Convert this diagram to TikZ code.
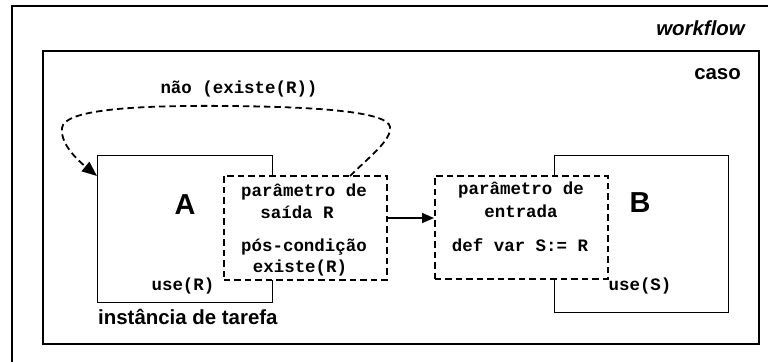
\documentclass[tikz,border=0pt]{standalone}
\usepackage{fontspec}
\setmainfont{Liberation Sans}
\newfontfamily\monof{Liberation Mono}
\usetikzlibrary{arrows.meta}
\tikzset{
  frame/.style={draw=black, line width=1.6bp},
  taskbox/.style={draw=black, fill=white, line width=1.3bp, inner sep=0pt, anchor=north west},
  parambox/.style={draw=black, fill=white, line width=1.8bp, dash pattern=on 6.5bp off 4bp, inner sep=0pt, anchor=north west},
  mono/.style={font=\monof\bfseries\fontsize{17.5}{20}\selectfont, inner sep=0pt},
  big/.style={font=\bfseries\fontsize{29}{32}\selectfont, inner sep=0pt},
  lbl/.style={font=\bfseries\fontsize{20.5}{24}\selectfont, inner sep=0pt},
  loopline/.style={line width=1.8bp, dash pattern=on 6.5bp off 4bp, -{Triangle[length=15bp,width=12bp]}},
  flow/.style={line width=1.6bp, -{Triangle[length=12bp,width=10bp]}}
}
\begin{document}
\begin{tikzpicture}[x=1bp,y=1bp]
\useasboundingbox (0,0) rectangle (768,-361);
% frames
\draw[frame] (12,-380) -- (12,-6) -- (790,-6) -- (790,-380);
\node[frame, inner sep=0pt, anchor=north west, minimum width=716bp, minimum height=293bp] (caso) at (42,-50) {};
\node[lbl, anchor=east, font=\bfseries\itshape\fontsize{20.5}{24}\selectfont] (wf) at (745,-28) {workflow};
\node[lbl, anchor=east] (casolbl) at (741,-74) {caso};
% task boxes
\node[taskbox, minimum width=175bp, minimum height=147bp] (A) at (97,-155) {};
\node[taskbox, minimum width=174bp, minimum height=157bp] (B) at (554,-155) {};
% parameter boxes
\node[parambox, minimum width=163bp, minimum height=104bp] (Aout) at (223,-175) {};
\node[parambox, minimum width=173bp, minimum height=103bp] (Bin) at (434,-175) {};
% letters
\node[big] (Alet) at (185,-205) {A};
\node[big] (Blet) at (640,-203) {B};
% mono texts
\node[mono] (a1) at (304,-192) {parâmetro de};
\node[mono] (a2) at (297,-212) {saída R};
\node[mono] (a3) at (304,-247) {pós-condição};
\node[mono] (a4) at (300,-268) {existe(R)};
\node[mono] (b1) at (521,-190) {parâmetro de};
\node[mono] (b2) at (521,-211) {entrada};
\node[mono] (b3) at (520,-245) {def var S:= R};
\node[mono] (useR) at (183,-286) {use(R)};
\node[mono] (useS) at (640,-286) {use(S)};
\node[mono] (nao) at (239,-89) {não (existe(R))};
\node[lbl, anchor=west] (inst) at (98,-317) {instância de tarefa};
% connectors
\coordinate (ls) at (350,-176);
\coordinate (le) at (97,-176);
\draw[loopline] (ls) .. controls (368,-158) and (392,-140) .. (390,-127)
  .. controls (388,-113) and (330,-107) .. (230,-106)
  .. controls (130,-105) and (64,-110) .. (62,-128)
  .. controls (60,-145) and (80,-162) .. (le);
\draw[flow] (Aout.east |- 0,-218) -- (Bin.west |- 0,-218);
\end{tikzpicture}
\end{document}
